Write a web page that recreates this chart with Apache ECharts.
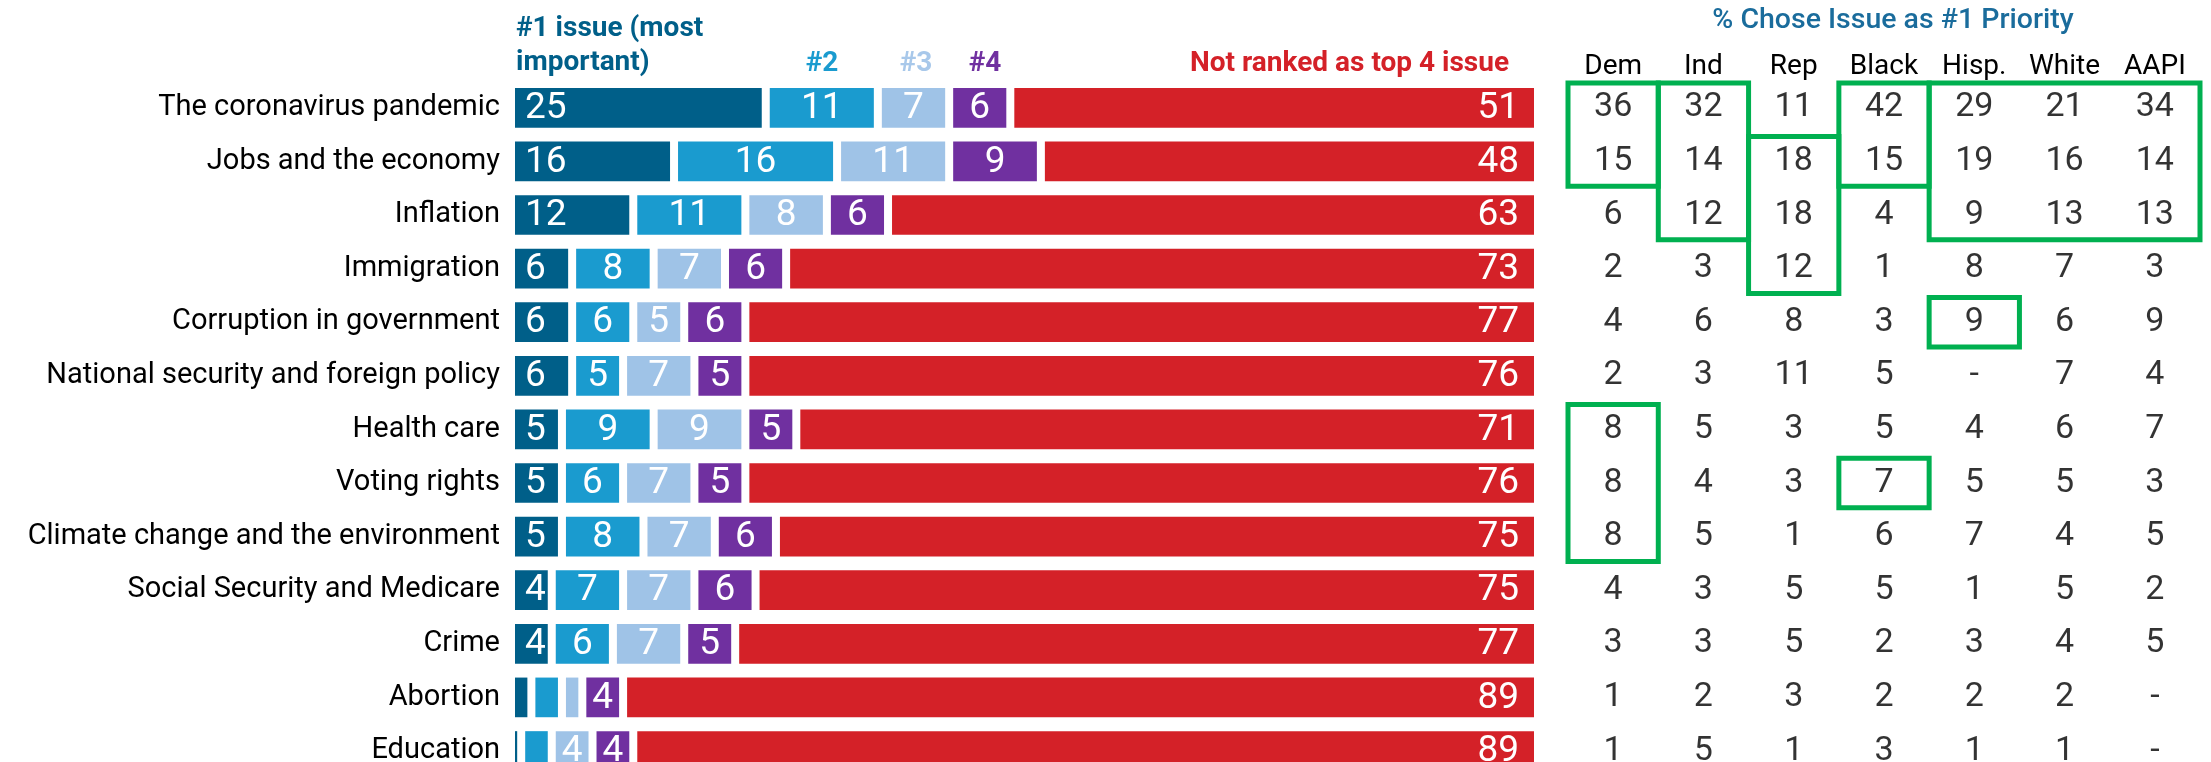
<!DOCTYPE html>
<html>
<head>
<meta charset="utf-8">
<script src="https://cdn.jsdelivr.net/npm/echarts@6/dist/echarts.min.js"></script>
<style>
  html, body { margin: 0; padding: 0; background: #fff; }
  #chart { width: 2211px; height: 762px; }
</style>
</head>
<body>
<div id="chart"></div>
<script>
  var issues = [
    'The coronavirus pandemic', 'Jobs and the economy', 'Inflation', 'Immigration',
    'Corruption in government', 'National security and foreign policy', 'Health care',
    'Voting rights', 'Climate change and the environment', 'Social Security and Medicare',
    'Crime', 'Abortion', 'Education'
  ]
  var rank1 = [25, 16, 12, 6, 6, 6, 5, 5, 5, 4, 4, 2, 1]
  var rank2 = [11, 16, 11, 8, 6, 5, 9, 6, 8, 7, 6, 3, 3]
  var rank3 = [7, 11, 8, 7, 5, 7, 9, 7, 7, 7, 7, 2, 4]
  var rank4 = [6, 9, 6, 6, 6, 5, 5, 5, 6, 6, 5, 4, 4]
  var notTop4 = [51, 48, 63, 73, 77, 76, 71, 76, 75, 75, 77, 89, 89]

  var groups = ['Dem', 'Ind', 'Rep', 'Black', 'Hisp.', 'White', 'AAPI']
  var dem = [36, 15, 6, 2, 4, 2, 8, 8, 8, 4, 3, 1, 1]
  var ind = [32, 14, 12, 3, 6, 3, 5, 4, 5, 3, 3, 2, 5]
  var rep = [11, 18, 18, 12, 8, 11, 3, 3, 1, 5, 5, 3, 1]
  var black = [42, 15, 4, 1, 3, 5, 5, 7, 6, 5, 2, 2, 3]
  var hisp = [29, 19, 9, 8, 9, '-', 4, 5, 7, 1, 3, 2, 1]
  var white = [21, 16, 13, 7, 6, 7, 6, 5, 4, 5, 4, 2, 1]
  var aapi = [34, 14, 13, 3, 9, 4, 7, 3, 5, 2, 5, '-', '-']

  // green outlines: [first group, last group, first issue, last issue]
  var boxes = [[0, 0, 0, 1], [1, 1, 0, 2], [2, 2, 1, 3], [3, 3, 0, 1], [4, 6, 0, 2], [4, 4, 4, 4], [0, 0, 6, 8], [3, 3, 7, 7]]

  var colors = ['#005F89', '#1A9BCF', '#9FC3E7', '#7030A0', '#D42128']
  var FONT = 'Roboto, sans-serif'
  var GAP = 8
  var TOP = 81
  var ROW = 53.6

  var barData = issues.map(function(name, i) {
    return [i, rank1[i], rank2[i], rank3[i], rank4[i], notTop4[i]]
  })

  var tableCols = [dem, ind, rep, black, hisp, white, aapi]
  var tableData = []
  tableCols.forEach(function(col, c) {
    col.forEach(function(v, r) {
      tableData.push([c, r, v])
    })
  })

  function renderBars(params, api) {
    var row = api.value(0)
    var h = api.size([0, 1])[1] * 0.74
    var yc = api.coord([0, row])[1]
    var children = []
    var cum = 0
    for (var i = 0; i < 5; i++) {
      var v = api.value(i + 1)
      // the red part runs to the end of the axis
      var end = i === 4 ? 100 : cum + v
      var x0 = api.coord([cum, row])[0]
      var x1 = api.coord([end, row])[0] - (i === 4 ? 0 : GAP)
      children.push({
        type: 'rect',
        shape: { x: x0, y: yc - h / 2, width: x1 - x0, height: h },
        style: { fill: colors[i] }
      })
      if (v >= 4) {
        var tx = i === 0 ? x0 + 10 : (i === 4 ? x1 - 15 : (x0 + x1) / 2)
        children.push({
          type: 'text',
          style: {
            text: String(v), x: tx, y: yc + 1,
            align: i === 0 ? 'left' : (i === 4 ? 'right' : 'center'),
            verticalAlign: 'middle',
            fill: '#fff', fontSize: 37, fontFamily: FONT
          }
        })
      }
      cum = end
    }
    return { type: 'group', children: children }
  }

  function renderBoxes(params, api) {
    var p0 = api.coord([api.value(0), api.value(2)])
    var p1 = api.coord([api.value(1), api.value(3)])
    var cw = api.size([1, 0])[0]
    var rh = api.size([0, 1])[1]
    return {
      type: 'rect',
      shape: {
        x: p0[0] - cw / 2,
        y: p0[1] - rh / 2 + 2,
        width: p1[0] - p0[0] + cw,
        height: p1[1] - p0[1] + rh - 4
      },
      style: { fill: 'none', stroke: '#00B050', lineWidth: 5 }
    }
  }

  var headStyle = { fontSize: 28, fontWeight: 'bold', fontFamily: FONT }

  var chart = echarts.init(document.getElementById('chart'))
  chart.setOption({
    animation: false,
    textStyle: { fontFamily: FONT },
    graphic: [
      { type: 'text', style: Object.assign({ text: '#1 issue (most\nimportant)', x: 516, y: 12, fill: '#005F89', lineHeight: 34 }, headStyle) },
      { type: 'text', style: Object.assign({ text: '#2', x: 822, y: 64, align: 'center', verticalAlign: 'middle', fill: '#1A9BCF' }, headStyle) },
      { type: 'text', style: Object.assign({ text: '#3', x: 916, y: 64, align: 'center', verticalAlign: 'middle', fill: '#A8C8EA' }, headStyle) },
      { type: 'text', style: Object.assign({ text: '#4', x: 985, y: 64, align: 'center', verticalAlign: 'middle', fill: '#7030A0' }, headStyle) },
      { type: 'text', style: Object.assign({ text: 'Not ranked as top 4 issue', x: 1509, y: 64, align: 'right', verticalAlign: 'middle', fill: '#D42128' }, headStyle) },
      { type: 'text', style: { text: '% Chose Issue as #1 Priority', x: 1893, y: 21, align: 'center', verticalAlign: 'middle', fill: '#1A6C9C', fontSize: 28.5, fontWeight: 500, fontFamily: FONT } }
    ],
    grid: [
      { left: 515, width: 1019, top: TOP, height: ROW * issues.length, outerBoundsMode: 'none', containLabel: false },
      { left: 1568, width: 632, top: TOP, height: ROW * issues.length, outerBoundsMode: 'none', containLabel: false }
    ],
    xAxis: [
      { type: 'value', gridIndex: 0, min: 0, max: 100, show: false },
      {
        type: 'category', gridIndex: 1, data: groups, position: 'top',
        axisLine: { show: false }, axisTick: { show: false }, splitLine: { show: false },
        axisLabel: { color: '#000', fontSize: 28, margin: 0, interval: 0, fontFamily: FONT }
      }
    ],
    yAxis: [
      {
        type: 'category', gridIndex: 0, data: issues, inverse: true,
        axisLine: { show: false }, axisTick: { show: false },
        axisLabel: { color: '#000', fontSize: 29, margin: 15, interval: 0, fontFamily: FONT }
      },
      {
        type: 'category', gridIndex: 1, data: issues, inverse: true,
        axisLine: { show: false }, axisTick: { show: false }, axisLabel: { show: false }
      }
    ],
    series: [
      {
        type: 'custom', xAxisIndex: 0, yAxisIndex: 0,
        renderItem: renderBars,
        encode: { y: 0, x: [1, 2, 3, 4, 5] },
        data: barData, clip: false
      },
      {
        type: 'scatter', xAxisIndex: 1, yAxisIndex: 1,
        symbolSize: 0,
        data: tableData,
        label: {
          show: true, position: 'inside', color: '#000', fontSize: 34, fontFamily: FONT,
          formatter: function(p) { return p.data[2] }
        }
      },
      {
        type: 'custom', xAxisIndex: 1, yAxisIndex: 1,
        renderItem: renderBoxes,
        encode: { x: [0, 1], y: [2, 3] },
        data: boxes, clip: false
      }
    ]
  })
</script>
</body>
</html>
